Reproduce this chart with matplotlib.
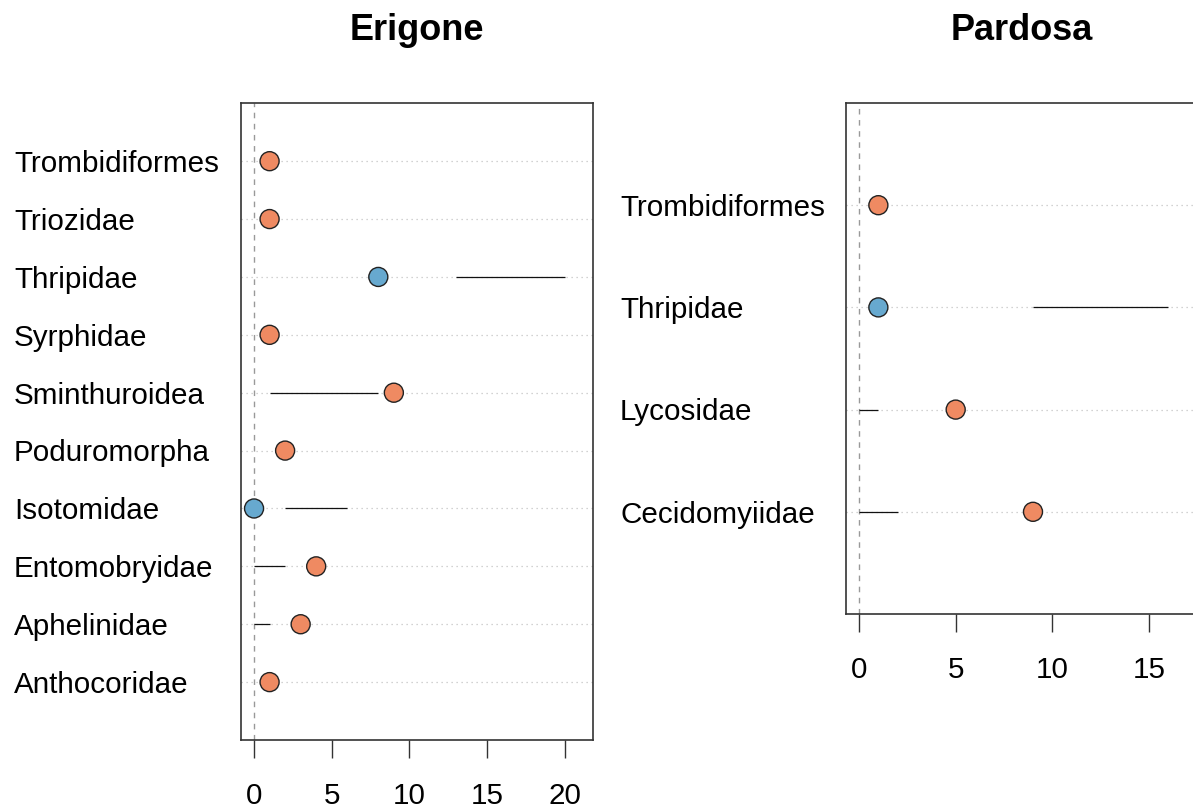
import matplotlib
matplotlib.use("Agg")
import matplotlib.pyplot as plt
from matplotlib import transforms

plt.rcParams['font.family'] = ['Liberation Sans', 'DejaVu Sans']

# Erigone panel data (rows listed bottom to top)
erigone_taxa = ["Anthocoridae", "Aphelinidae", "Entomobryidae", "Isotomidae",
                "Poduromorpha", "Sminthuroidea", "Syrphidae", "Thripidae",
                "Triozidae", "Trombidiformes"]
erigone_values = [1, 3, 4, 0, 2, 9, 1, 8, 1, 1]
erigone_group = ["pos", "pos", "pos", "neg", "pos", "pos", "pos", "neg", "pos", "pos"]
erigone_range_lo = [None, 0, 0, 2, None, 1, None, 13, None, None]
erigone_range_hi = [None, 1, 2, 6, None, 8, None, 20, None, None]

# Pardosa panel data (rows listed bottom to top)
pardosa_taxa = ["Cecidomyiidae", "Lycosidae", "Thripidae", "Trombidiformes"]
pardosa_values = [9, 5, 1, 1]
pardosa_group = ["pos", "pos", "neg", "pos"]
pardosa_range_lo = [0, 0, 9, None]
pardosa_range_hi = [2, 1, 16, None]

xticks_erigone = [0, 5, 10, 15, 20]
xticks_pardosa = [0, 5, 10, 15]

colors = {"pos": "#EF8A62", "neg": "#67A9CF"}

W, H = 1193, 809
fig = plt.figure(figsize=(W / 100, H / 100), dpi=100)


def px_box(left, top, right, bottom):
    return [left / W, 1 - bottom / H, (right - left) / W, (bottom - top) / H]


def dotpanel(rect, title, taxa, values, groups, lo, hi, xlim, xticks, label_x):
    ax = fig.add_axes(rect)
    n = len(taxa)
    ys = list(range(1, n + 1))
    ax.set_xlim(*xlim)
    ax.set_ylim(0, n + 1)
    for y in ys:
        ax.axhline(y, color="#c4c4c4", lw=0.9, ls=(0, (1, 3)), zorder=1)
    ax.axvline(0, color="#999999", lw=1.0, ls=(0, (4, 4)), zorder=1)
    for y, a, b in zip(ys, lo, hi):
        if a is not None:
            ax.plot([a, b], [y, y], color="#111111", lw=0.9, zorder=2,
                    solid_capstyle="butt")
    ax.scatter(values, ys, s=13.7 ** 2, c=[colors[g] for g in groups],
               edgecolors="#222222", linewidths=1.0, zorder=3, clip_on=False)
    ax.set_yticks([])
    ax.set_xticks(xticks)
    ax.set_xticklabels([str(t) for t in xticks], fontsize=21.3)
    ax.tick_params(axis="x", length=13, width=1.0, color="#333333", pad=17)
    for s in ax.spines.values():
        s.set_color("#333333")
        s.set_linewidth(1.2)
    # panel title at a fixed height near the top of the figure
    bb = ax.get_position()
    fig.text((bb.x0 + bb.x1) / 2, 1 - 39.5 / H, title, fontsize=26,
             fontweight="bold", ha="center", va="baseline")
    # row labels, left-aligned in the left margin
    trans = transforms.blended_transform_factory(fig.transFigure, ax.transData)
    trans = trans + transforms.ScaledTranslation(0, -10.8 / 100, fig.dpi_scale_trans)
    for y, name in zip(ys, taxa):
        fig.text(label_x / W, y, name, transform=trans, fontsize=21.3,
                 ha="left", va="baseline")
    return ax


ax1 = dotpanel(px_box(241, 103.3, 593.3, 740), "Erigone", erigone_taxa,
               erigone_values, erigone_group, erigone_range_lo, erigone_range_hi,
               (-0.84, 21.84), xticks_erigone, 14)
ax2 = dotpanel(px_box(845.7, 103, 1197.3, 614), "Pardosa", pardosa_taxa,
               pardosa_values, pardosa_group, pardosa_range_lo, pardosa_range_hi,
               (-0.69, 17.5), xticks_pardosa, 620)

fig.savefig("out.png", dpi=100)
